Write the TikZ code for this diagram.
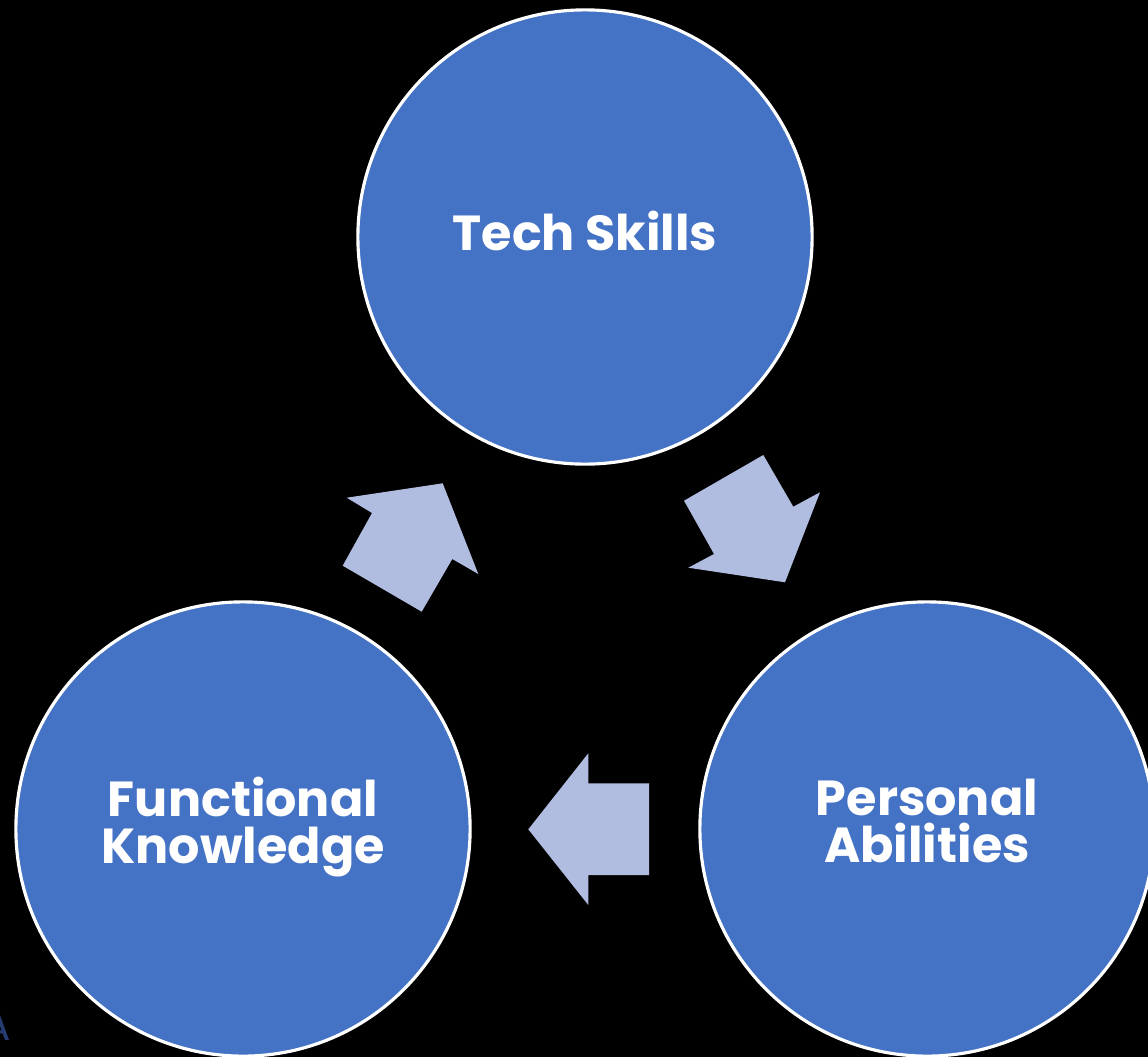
\documentclass[tikz,border=0pt]{standalone}
\usepackage{fontspec}
\setmainfont{Poppins}
\definecolor{circblue}{RGB}{68,114,196}
\definecolor{arrowblue}{RGB}{176,189,224}
\definecolor{navy}{RGB}{38,60,115}
\begin{document}
\begin{tikzpicture}[x=0.01cm,y=-0.01cm,
  cyc/.style={circle,draw=white,line width=0.9pt,fill=circblue,minimum size=4.54cm,inner sep=0pt},
  lbl/.style={text=white,font=\fontsize{14}{13.6}\selectfont\bfseries,align=center},
  blockarrow/.style={fill=arrowblue,draw=none}]
\useasboundingbox[fill=black] (0,0) rectangle (1148,1057);
\node[cyc] (tech) at (585,237) {};
\node[cyc] (func) at (243,829) {};
\node[cyc] (pers) at (927,829) {};
\node[lbl] (techlbl) at (585,231) {Tech Skills};
\node[lbl] (funclbl) at (243,827) {Functional\\Knowledge};
\node[lbl] (perslbl) at (927,821) {Personal\\Abilities};
\fill[blockarrow] (346.7,497.7) -- (442.7,483.3) -- (478.3,574) -- (452.3,559) -- (421.7,611.7) -- (342.7,565.7) -- (372,513) -- cycle;
\fill[blockarrow] (763.3,455) -- (793.3,506.7) -- (820,492.3) -- (785,582.3) -- (688.3,567.7) -- (714,554) -- (684,500.7) -- cycle;
\fill[blockarrow] (528.3,829.3) -- (588.3,753.3) -- (588.3,783.3) -- (649,783.3) -- (649,875) -- (588.3,875) -- (588.3,905) -- cycle;
\node[anchor=base east,inner sep=0pt,text=navy,font=\fontsize{12}{12}\selectfont] (corner) at (12,1040) {A};
\end{tikzpicture}
\end{document}
